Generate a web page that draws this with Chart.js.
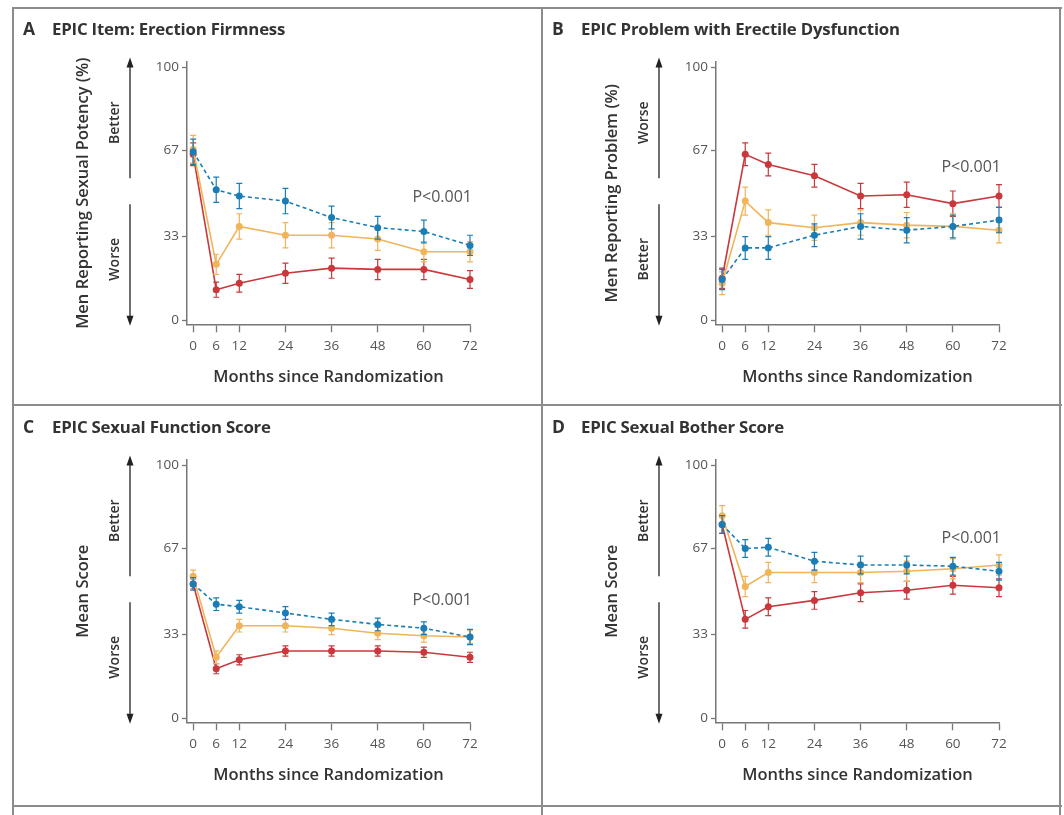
<!DOCTYPE html>
<html>
<head>
<meta charset="utf-8">
<script src="https://cdn.jsdelivr.net/npm/chart.js@4.4.0/dist/chart.umd.min.js"></script>
<style>
  html, body { margin: 0; padding: 0; background: #fff; }
  #page { position: relative; width: 1064px; height: 815px; overflow: hidden; font-family: "Open Sans", sans-serif; }
  .rule { position: absolute; background: #8c8c8c; }
  .panel { position: absolute; width: 529px; height: 397px; }
  .panel canvas { position: absolute; left: 0; top: 0; }
  .head { position: absolute; left: 10px; top: 9px; line-height: 22px; font-size: 16.8px; font-weight: 700; color: #333; white-space: nowrap; letter-spacing: -0.2px; }
  .head .tag { display: inline-block; width: 29px; font-size: 17.5px; }
</style>
</head>
<body>
<div id="page">
  <div class="rule" style="left:12px;top:7px;width:1050px;height:2px"></div>
  <div class="rule" style="left:12px;top:404px;width:1050px;height:2px"></div>
  <div class="rule" style="left:12px;top:805px;width:1050px;height:2px"></div>
  <div class="rule" style="left:12px;top:7px;width:2px;height:808px"></div>
  <div class="rule" style="left:541px;top:7px;width:2px;height:808px"></div>
  <div class="rule" style="left:1059px;top:7px;width:2px;height:808px"></div>

  <div class="panel" style="left:13px;top:8px"><canvas id="pA" width="529" height="397"></canvas>
    <div class="head"><span class="tag">A</span>EPIC Item: Erection Firmness</div></div>
  <div class="panel" style="left:542px;top:8px"><canvas id="pB" width="529" height="397"></canvas>
    <div class="head"><span class="tag">B</span>EPIC Problem with Erectile Dysfunction</div></div>
  <div class="panel" style="left:13px;top:406px"><canvas id="pC" width="529" height="397"></canvas>
    <div class="head"><span class="tag">C</span>EPIC Sexual Function Score</div></div>
  <div class="panel" style="left:542px;top:406px"><canvas id="pD" width="529" height="397"></canvas>
    <div class="head"><span class="tag">D</span>EPIC Sexual Bother Score</div></div>
</div>

<script>
const months = [0, 6, 12, 24, 36, 48, 60, 72];
const yTickValues = [0, 33, 67, 100];

// A: men reporting erections firm enough for intercourse (%)
const firmMonitoring = [66.5, 51.5, 49, 47, 40.5, 36.5, 35, 29.5];
const firmMonitoringErr = [5, 5, 5, 5, 4.5, 4.5, 4.5, 4];
const firmRadiotherapy = [67.5, 22, 37, 33.5, 33.5, 32, 27, 27];
const firmRadiotherapyErr = [5.5, 4, 5, 5, 5, 4.5, 4, 4];
const firmSurgery = [65.5, 12, 14.5, 18.5, 20.5, 20, 20, 16];
const firmSurgeryErr = [4.5, 3, 3.5, 4, 4, 4, 4, 3.5];

// B: men reporting erectile dysfunction as a problem (%)
const edMonitoring = [16, 28.5, 28.5, 33.5, 37, 35.5, 37, 39.5];
const edMonitoringErr = [4, 4.5, 4.5, 4.5, 5, 5, 4.5, 5];
const edRadiotherapy = [14.5, 47, 38.5, 36.5, 38.5, 37.5, 37, 35.5];
const edRadiotherapyErr = [4.5, 5.5, 5, 5, 5, 5, 5, 5];
const edSurgery = [16.5, 65.5, 61.5, 57, 49, 49.5, 46, 49];
const edSurgeryErr = [4, 4.5, 4.5, 4.5, 5, 5, 5, 4.5];

// C: sexual function domain score
const fnMonitoring = [53, 45, 44, 41.5, 39, 37, 35.5, 32];
const fnMonitoringErr = [2.5, 2.5, 2.5, 2.5, 2.5, 2.5, 2.5, 3];
const fnRadiotherapy = [56, 24, 36.5, 36.5, 35.5, 33.5, 32.5, 32];
const fnRadiotherapyErr = [2.5, 2.5, 2.5, 2.5, 2.5, 2.5, 2.5, 2.5];
const fnSurgery = [53, 19.5, 23, 26.5, 26.5, 26.5, 26, 24];
const fnSurgeryErr = [2, 2, 2, 2, 2, 2, 2, 2];

// D: sexual bother domain score
const botherMonitoring = [76.5, 67, 67.5, 62, 60.5, 60.5, 60, 58];
const botherMonitoringErr = [3.5, 3.5, 3.5, 3.5, 3.5, 3.5, 3.5, 3.5];
const botherRadiotherapy = [80, 52, 57.5, 57.5, 57.5, 58, 59, 60.5];
const botherRadiotherapyErr = [4, 4, 4, 4, 4, 4, 4, 4];
const botherSurgery = [76.5, 39, 44, 46.5, 49.5, 50.5, 52.5, 51.5];
const botherSurgeryErr = [3.5, 3.5, 3.5, 3.5, 3.5, 3.5, 3.5, 3.5];

const FONT = '"Open Sans", sans-serif';
const BLUE = '#1b7db5';
const ORANGE = '#f0b45a';
const RED = '#c8383c';

// vertical whiskers with caps for each point
const errorBars = {
  id: 'errorBars',
  afterDatasetDraw(chart, args) {
    const ds = chart.data.datasets[args.index];
    const y = chart.scales.y;
    const ctx = chart.ctx;
    ctx.save();
    ctx.strokeStyle = ds.borderColor;
    ctx.lineWidth = 1.2;
    ctx.setLineDash([]);
    args.meta.data.forEach((pt, i) => {
      const v = ds.data[i].y, e = ds.err[i];
      const top = y.getPixelForValue(v + e), bot = y.getPixelForValue(v - e);
      ctx.beginPath();
      ctx.moveTo(pt.x, top); ctx.lineTo(pt.x, bot);
      ctx.moveTo(pt.x - 3, top); ctx.lineTo(pt.x + 3, top);
      ctx.moveTo(pt.x - 3, bot); ctx.lineTo(pt.x + 3, bot);
      ctx.stroke();
    });
    ctx.restore();
  }
};

// "Better" / "Worse" arrows beside the y axis
const direction = {
  id: 'direction',
  afterDraw(chart, args, opts) {
    const { ctx, scales: { y } } = chart;
    const x = opts.x;
    const tipTop = y.getPixelForValue(103.8), gapTop = y.getPixelForValue(56);
    const gapBot = y.getPixelForValue(45.8), tipBot = y.getPixelForValue(-2.3);
    ctx.save();
    ctx.strokeStyle = '#222';
    ctx.fillStyle = '#222';
    ctx.lineWidth = 1.3;
    ctx.beginPath();
    ctx.moveTo(x, tipTop + 8); ctx.lineTo(x, gapTop);
    ctx.moveTo(x, gapBot); ctx.lineTo(x, tipBot - 8);
    ctx.stroke();
    ctx.beginPath();
    ctx.moveTo(x, tipTop); ctx.lineTo(x - 3.5, tipTop + 10); ctx.lineTo(x + 3.5, tipTop + 10); ctx.closePath();
    ctx.moveTo(x, tipBot); ctx.lineTo(x - 3.5, tipBot - 10); ctx.lineTo(x + 3.5, tipBot - 10); ctx.closePath();
    ctx.fill();
    ctx.font = '600 14px ' + FONT;
    ctx.fillStyle = '#333';
    ctx.textAlign = 'center';
    ctx.textBaseline = 'middle';
    [[opts.up, 78], [opts.down, 24]].forEach(([text, v]) => {
      ctx.save();
      ctx.translate(x - 15, y.getPixelForValue(v));
      ctx.rotate(-Math.PI / 2);
      ctx.fillText(text, 0, 0);
      ctx.restore();
    });
    ctx.restore();
  }
};

const pValue = {
  id: 'pValue',
  afterDraw(chart, args, opts) {
    const { ctx, scales: { x, y } } = chart;
    ctx.save();
    ctx.font = '16px ' + FONT;
    ctx.fillStyle = '#555';
    ctx.textAlign = 'right';
    ctx.textBaseline = 'middle';
    ctx.fillText(opts.text, x.getPixelForValue(72) + 2, y.getPixelForValue(opts.at));
    ctx.restore();
  }
};

function series(label, values, err, color, dashed) {
  return {
    label, err,
    data: values.map((v, i) => ({ x: months[i], y: v })),
    borderColor: color,
    backgroundColor: color,
    borderWidth: 1.6,
    borderDash: dashed ? [4, 3] : [],
    pointRadius: 3.5,
    pointHoverRadius: 3.5,
    pointBorderWidth: 0,
    tension: 0
  };
}

function makePanel(id, p) {
  new Chart(document.getElementById(id), {
    type: 'line',
    data: {
      datasets: [
        series('Active monitoring', p.monitoring, p.monitoringErr, BLUE, true),
        series('Radiotherapy', p.radiotherapy, p.radiotherapyErr, ORANGE, false),
        series('Surgery', p.surgery, p.surgeryErr, RED, false)
      ]
    },
    options: {
      responsive: false,
      animation: false,
      clip: false,
      layout: { padding: { left: 52, top: 54, right: 72, bottom: 18 } },
      plugins: {
        legend: { display: false },
        tooltip: { enabled: false },
        direction: { x: 117, up: p.up, down: p.down },
        pValue: { text: 'P<0.001', at: p.pAt }
      },
      scales: {
        x: {
          type: 'linear', min: -1.6, max: 72,
          afterBuildTicks: s => { s.ticks = months.map(v => ({ value: v })); },
          afterFit: s => { s.height = 62.7; },
          grid: { drawOnChartArea: false, drawTicks: true, tickLength: 8, tickWidth: 1.3, tickColor: '#777' },
          border: { display: true, color: '#777', width: 1.5 },
          ticks: { autoSkip: false, maxRotation: 0, padding: 6, color: '#555', font: { family: FONT, size: 13.5 } },
          title: { display: true, text: 'Months since Randomization', color: '#333',
                   font: { family: FONT, size: 16.5, weight: '600' }, padding: { top: 0, bottom: 0 } }
        },
        y: {
          min: -1.7, max: 102,
          afterBuildTicks: s => { s.ticks = yTickValues.map(v => ({ value: v })); },
          afterFit: s => { s.width = 122; },
          grid: { drawOnChartArea: false, drawTicks: true, tickLength: 5, tickWidth: 1.3, tickColor: '#777' },
          border: { display: true, color: '#777', width: 1.5 },
          ticks: { padding: 3, color: '#555', font: { family: FONT, size: 13.5 } },
          title: { display: true, text: p.yTitle, color: '#333',
                   font: { family: FONT, size: 16.5, weight: '600' }, padding: { top: 8, bottom: 0 } }
        }
      }
    },
    plugins: [errorBars, direction, pValue]
  });
}

makePanel('pA', {
  yTitle: 'Men Reporting Sexual Potency (%)', up: 'Better', down: 'Worse', pAt: 48.3,
  monitoring: firmMonitoring, monitoringErr: firmMonitoringErr,
  radiotherapy: firmRadiotherapy, radiotherapyErr: firmRadiotherapyErr,
  surgery: firmSurgery, surgeryErr: firmSurgeryErr
});
makePanel('pB', {
  yTitle: 'Men Reporting Problem (%)', up: 'Worse', down: 'Better', pAt: 60.2,
  monitoring: edMonitoring, monitoringErr: edMonitoringErr,
  radiotherapy: edRadiotherapy, radiotherapyErr: edRadiotherapyErr,
  surgery: edSurgery, surgeryErr: edSurgeryErr
});
makePanel('pC', {
  yTitle: 'Mean Score', up: 'Better', down: 'Worse', pAt: 46.5,
  monitoring: fnMonitoring, monitoringErr: fnMonitoringErr,
  radiotherapy: fnRadiotherapy, radiotherapyErr: fnRadiotherapyErr,
  surgery: fnSurgery, surgeryErr: fnSurgeryErr
});
makePanel('pD', {
  yTitle: 'Mean Score', up: 'Better', down: 'Worse', pAt: 71.1,
  monitoring: botherMonitoring, monitoringErr: botherMonitoringErr,
  radiotherapy: botherRadiotherapy, radiotherapyErr: botherRadiotherapyErr,
  surgery: botherSurgery, surgeryErr: botherSurgeryErr
});
</script>
</body>
</html>
